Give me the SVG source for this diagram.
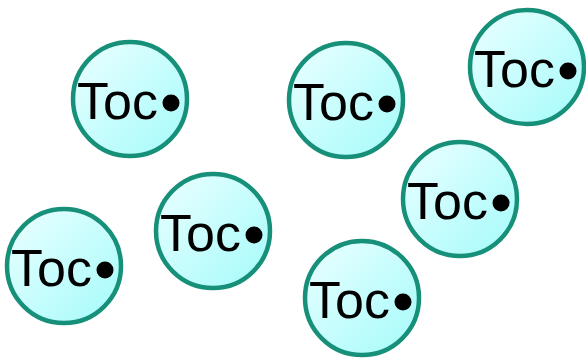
<svg xmlns="http://www.w3.org/2000/svg" width="586" height="358" viewBox="0 0 586 358">
<style>
.node{fill:url(#g);stroke:#17907a;stroke-width:4.5}
.lbl{font-family:"Liberation Sans",Arial,sans-serif;font-size:52px;fill:#000}
.dot{fill:#000}
</style>
<defs>
<linearGradient id="g" x1="0" y1="0" x2="1" y2="1">
<stop offset="0" stop-color="#ecffff"/>
<stop offset="1" stop-color="#a4fbfb"/>
</linearGradient>
<g id="toc">
<circle class="node" cx="0" cy="0" r="57"/>
<text class="lbl" x="-53" y="20">Toc</text>
<circle class="dot" cx="41" cy="4" r="8.5"/>
</g>
</defs>
<g id="connectors"></g>
<g id="n1"><use href="#toc" x="130" y="99"/></g>
<g id="n2"><use href="#toc" x="346" y="100"/></g>
<g id="n3"><use href="#toc" x="527" y="67"/></g>
<g id="n4"><use href="#toc" x="460" y="199"/></g>
<g id="n5"><use href="#toc" x="213" y="231"/></g>
<g id="n6"><use href="#toc" x="64" y="266"/></g>
<g id="n7"><use href="#toc" x="362" y="298"/></g>
</svg>
